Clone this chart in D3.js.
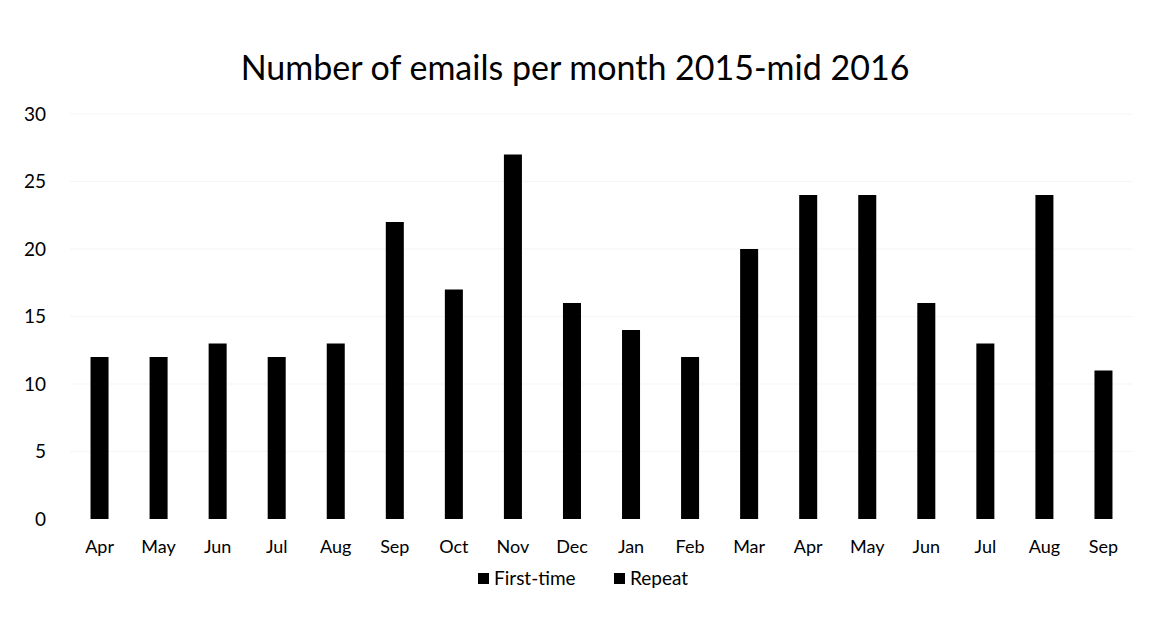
<!DOCTYPE html>
<html>
<head>
<meta charset="utf-8">
<script src="https://cdn.jsdelivr.net/npm/d3@7"></script>
<style>
  body { margin: 0; background: #fff; }
  text { font-family: Lato, "Open Sans", sans-serif; fill: #000; }
</style>
</head>
<body>
<svg width="1149" height="636"></svg>
<script>
// months on the x axis (Apr 2015 - Sep 2016)
var months = ["Apr","May","Jun","Jul","Aug","Sep","Oct","Nov","Dec","Jan","Feb","Mar","Apr","May","Jun","Jul","Aug","Sep"];
// both series are printed black, so the split cannot be read; totals kept in first-time
var firstTime = [12,12,13,12,13,22,17,27,16,14,12,20,24,24,16,13,24,11];
var repeat    = [0,0,0,0,0,0,0,0,0,0,0,0,0,0,0,0,0,0];
var seriesNames = ["First-time","Repeat"];
var yTicks = [0,5,10,15,20,25,30];

var margin = {top: 114, right: 16, bottom: 117, left: 70},
    width = 1149 - margin.left - margin.right,
    height = 636 - margin.top - margin.bottom;

var svg = d3.select("svg");
var g = svg.append("g").attr("transform", "translate(" + margin.left + "," + margin.top + ")");

var rows = months.map(function(m, i) { return {i: i, month: m, first: firstTime[i], repeat: repeat[i]}; });
var stack = d3.stack().keys(["first","repeat"])(rows);

var x = d3.scaleBand()
    .domain(d3.range(months.length))
    .range([0, width])
    .paddingInner(0.695).paddingOuter(0.3475);

var y = d3.scaleLinear().domain([0, 30]).range([height, 0]);

var col = d3.scaleOrdinal().domain(["first","repeat"]).range(["#000","#000"]);

// faint gridlines (barely visible in the scan)
g.append("g")
  .selectAll("line").data(yTicks.slice(1)).enter().append("line")
  .attr("x1", 0).attr("x2", width)
  .attr("y1", function(d) { return y(d); }).attr("y2", function(d) { return y(d); })
  .attr("stroke", "#f5f5f5");

g.selectAll("g.series")
  .data(stack).enter().append("g")
  .attr("class", "series")
  .attr("fill", function(d) { return col(d.key); })
  .selectAll("rect").data(function(d) { return d; }).enter().append("rect")
  .attr("x", function(d) { return x(d.data.i); })
  .attr("y", function(d) { return y(d[1]); })
  .attr("width", x.bandwidth())
  .attr("height", function(d) { return y(d[0]) - y(d[1]); });

var yAxis = g.append("g")
  .call(d3.axisLeft(y).tickValues(yTicks).tickSize(0).tickPadding(24));
yAxis.select(".domain").remove();
yAxis.selectAll("text").style("font-size", "19px");

var xAxis = g.append("g")
  .attr("transform", "translate(0," + height + ")")
  .call(d3.axisBottom(x).tickSize(0).tickPadding(21).tickFormat(function(i) { return months[i]; }));
xAxis.select(".domain").remove();
xAxis.selectAll("text").style("font-size", "18px");

svg.append("text")
  .attr("x", 575).attr("y", 80)
  .attr("text-anchor", "middle")
  .style("font-size", "34px")
  .text("Number of emails per month 2015-mid 2016");

// legend
var legend = svg.append("g").attr("transform", "translate(478,585)");
var lx = [0, 136];
seriesNames.forEach(function(name, i) {
  legend.append("rect").attr("x", lx[i]).attr("y", -12).attr("width", 11).attr("height", 11).attr("fill", "#000");
  legend.append("text").attr("x", lx[i] + 16).attr("y", 0).style("font-size", "19px").text(name);
});
</script>
</body>
</html>
